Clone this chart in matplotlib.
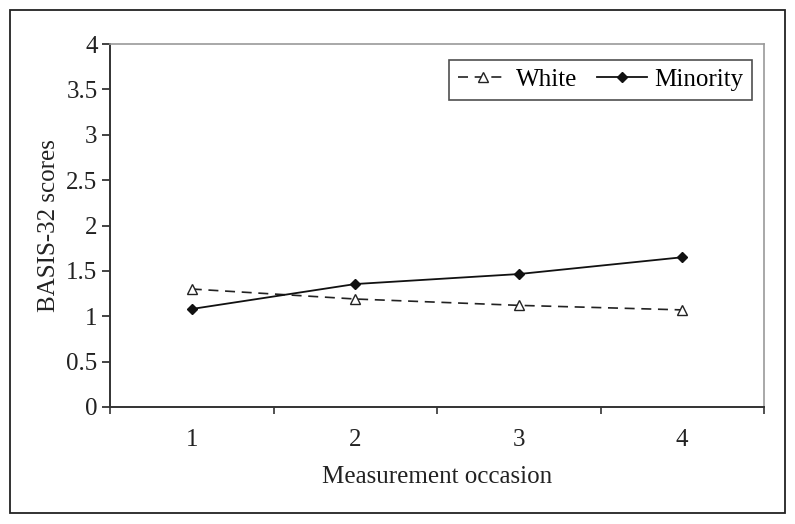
import matplotlib.pyplot as plt
from matplotlib.patches import Rectangle
from matplotlib.ticker import FixedLocator, FormatStrFormatter

# Datos
ocasiones = [1, 2, 3, 4]
white = [1.30, 1.19, 1.12, 1.07]
minority = [1.08, 1.355, 1.465, 1.65]
yticks = [0, 0.5, 1, 1.5, 2, 2.5, 3, 3.5, 4]

plt.rcParams['font.family'] = ['Liberation Serif', 'DejaVu Serif']
FS = 18

fig = plt.figure(figsize=(7.95, 5.24), dpi=100)
ax = fig.add_axes([0.1384, 0.2233, 0.8226, 0.6927])

# marco exterior
fig.patches.append(Rectangle((0.0126, 0.021), 0.975, 0.96, transform=fig.transFigure,
                             fill=False, edgecolor='#222222', linewidth=1.3))

ax.plot(ocasiones, white, color='#222222', linestyle=(0, (6, 4)), linewidth=1.2,
        marker='^', markersize=7, markerfacecolor='white', markeredgecolor='#222222',
        label='White')
ax.plot(ocasiones, minority, color='#111111', linestyle='-', linewidth=1.3,
        marker='D', markersize=5.5, markerfacecolor='#111111', markeredgecolor='#111111',
        label='Minority')

ax.set_xlim(0.5, 4.5)
ax.set_ylim(0, 4)
ax.set_xticks(ocasiones)
ax.set_xticklabels([str(o) for o in ocasiones])
ax.xaxis.set_minor_locator(FixedLocator([0.5, 1.5, 2.5, 3.5, 4.5]))
ax.tick_params(axis='x', which='major', length=0, pad=16, labelsize=FS, colors='#222222')
ax.tick_params(axis='x', which='minor', length=5, width=1.2, direction='out', color='#333333')
ax.set_yticks(yticks)
ax.yaxis.set_major_formatter(FormatStrFormatter('%g'))
ax.tick_params(axis='y', length=6, width=1.2, direction='out', labelsize=FS,
               colors='#222222', pad=3)

for s in ['left', 'bottom']:
    ax.spines[s].set_color('#333333')
    ax.spines[s].set_linewidth(1.4)
for s in ['top', 'right']:
    ax.spines[s].set_color('#9a9a9a')
    ax.spines[s].set_linewidth(1.2)

ax.set_xlabel('Measurement occasion', fontsize=FS, color='#222222', labelpad=11)
ax.set_ylabel('BASIS-32 scores', fontsize=FS, color='#222222', labelpad=4.5)

leg = ax.legend(loc='upper right', ncol=2, fontsize=FS, frameon=True, fancybox=False,
                edgecolor='#222222', handlelength=2.0, columnspacing=0.8,
                handletextpad=0.3, borderpad=0.35, borderaxespad=0,
                bbox_to_anchor=(0.982, 0.956))
leg.get_frame().set_linewidth(1.2)

fig.savefig('out.png', dpi=100, facecolor='white')
